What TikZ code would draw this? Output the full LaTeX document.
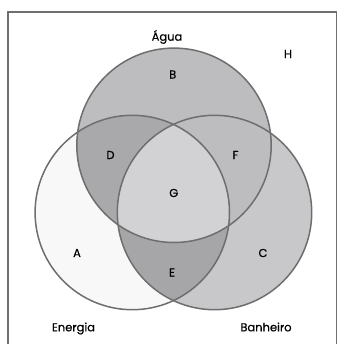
\documentclass[tikz,border=0pt]{standalone}
\usepackage{fontspec}
\setmainfont{Poppins}[UprightFeatures={FakeBold=0.5}]
\definecolor{cA}{HTML}{F8F8F8}
\definecolor{cB}{HTML}{BDBDBF}
\definecolor{cC}{HTML}{C8C8CA}
\definecolor{cD}{HTML}{A9A9AB}
\definecolor{cE}{HTML}{A6A6A8}
\definecolor{cF}{HTML}{BDBDBF}
\definecolor{cG}{HTML}{D2D2D4}
\definecolor{edge}{HTML}{6E6E6E}
\begin{document}
\begin{tikzpicture}[x=1pt,y=-1pt,
  lbl/.style={font=\fontsize{11.5}{13}\selectfont, text=black, inner sep=0pt},
  ring/.style={draw=edge, line width=1.5pt}]
\useasboundingbox (0,0) rectangle (338,344);
\clip (0,0) rectangle (338,344);
\fill[white] (0,0) rectangle (338,344);
\draw[edge, line width=1.8pt] (7.8,350) -- (7.8,12) -- (336.5,12) -- (336.5,350);
\coordinate (ct) at (174,145.3);
\coordinate (cl) at (132.3,212.5);
\coordinate (cr) at (214.5,212.5);
\def\R{97.2}
\fill[cA] (cl) circle (\R);
\fill[cC] (cr) circle (\R);
\fill[cB] (ct) circle (\R);
\begin{scope}\clip (ct) circle (\R); \fill[cD] (cl) circle (\R);\end{scope}
\begin{scope}\clip (ct) circle (\R); \fill[cF] (cr) circle (\R);\end{scope}
\begin{scope}\clip (cl) circle (\R); \fill[cE] (cr) circle (\R);\end{scope}
\begin{scope}\clip (ct) circle (\R); \clip (cl) circle (\R); \fill[cG] (cr) circle (\R);\end{scope}
\draw[ring] (ct) circle (\R);
\draw[ring] (cl) circle (\R);
\draw[ring] (cr) circle (\R);
\node[lbl, anchor=base] (agua) at (167,40.7) {Água};
\node[lbl] (H) at (288,54) {H};
\node[lbl] (B) at (172.7,74.5) {B};
\node[lbl] (D) at (110.5,155) {D};
\node[lbl] (F) at (235.5,155) {F};
\node[lbl] (G) at (173.8,193) {G};
\node[lbl] (A) at (77,253) {A};
\node[lbl] (C) at (263,253) {C};
\node[lbl] (E) at (172,272.5) {E};
\node[lbl, anchor=base] (en) at (73.5,331.3) {Energia};
\node[lbl, anchor=base] (ba) at (266,331.3) {Banheiro};
\end{tikzpicture}
\end{document}
